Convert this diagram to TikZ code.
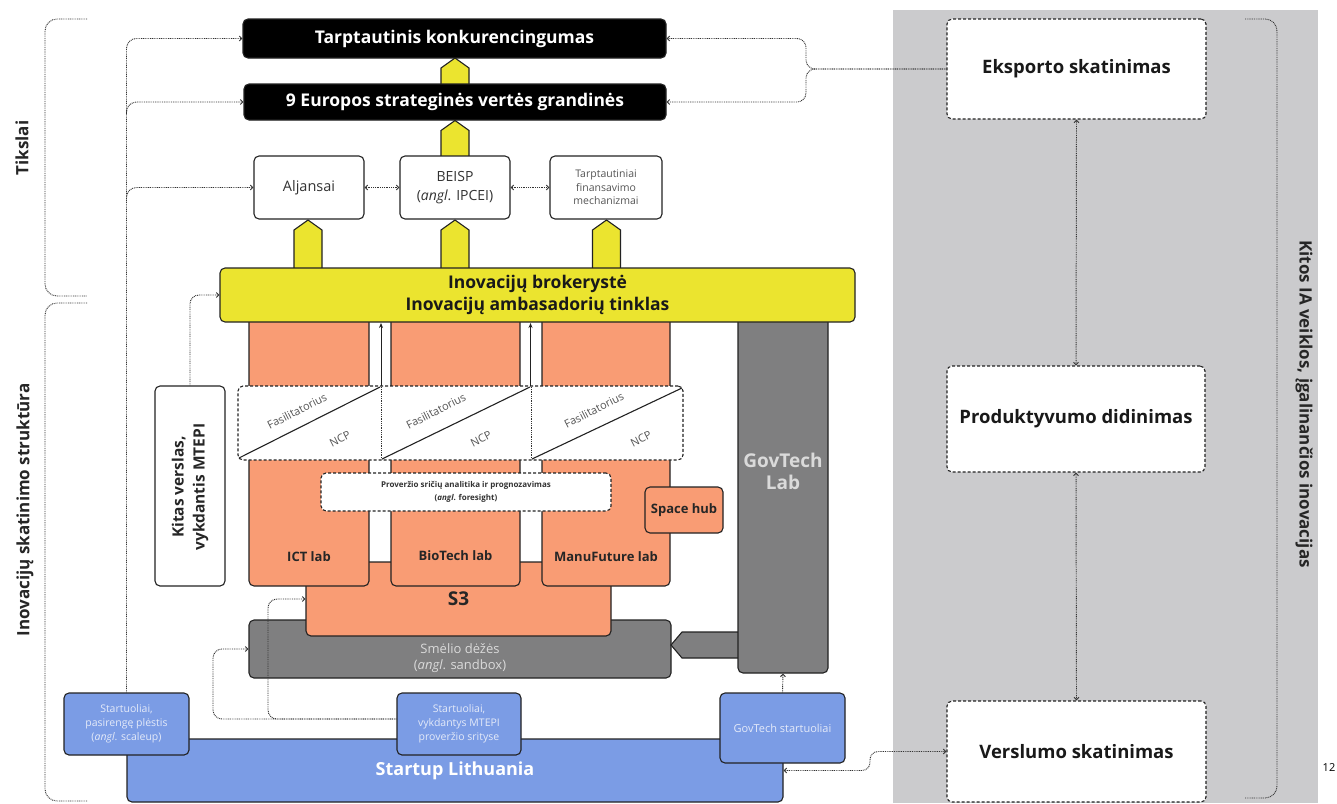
\documentclass[tikz,border=0pt]{standalone}
\usepackage{fontspec}
\setmainfont{Open Sans}
\usetikzlibrary{arrows.meta,calc}
\definecolor{cyel}{HTML}{EBE42F}
\definecolor{corg}{HTML}{F99C74}
\definecolor{cgry}{HTML}{7F7F80}
\definecolor{cblu}{HTML}{7B9CE5}
\definecolor{cpan}{HTML}{CBCBCD}
\definecolor{cline}{HTML}{222222}
\definecolor{bluetext}{HTML}{E4EAF9}
\definecolor{graytext}{HTML}{DADADA}
\definecolor{midtext}{HTML}{555555}
\newcommand\fsz[2]{\fontsize{#1}{#2}\selectfont}
\newcommand\yarr[3]{\draw[yarrow] (#1-14,#2) -- (#1-14,#3+10) -- (#1,#3) -- (#1+14,#3+10) -- (#1+14,#2) -- cycle;}
\begin{document}
\begin{tikzpicture}[x=1pt,y=-1pt,
  >={Straight Barb[length=2.5pt,width=5pt]},
  bx/.style={draw=cline,line width=1.1pt,rounded corners=5pt,inner sep=0pt,align=center},
  blackbox/.style={bx,fill=black,text=white,font=\bfseries\fsz{17.5}{20}},
  whitebox/.style={bx,fill=white,text=black!80},
  dashbox/.style={bx,fill=white,dash pattern=on 3pt off 2pt},
  colbox/.style={bx,fill=corg},
  graybox/.style={bx,fill=cgry},
  bluebox/.style={bx,fill=cblu,text=bluetext,font=\fsz{10.5}{14}},
  dotc/.style={draw=black!80,line width=0.95pt,dash pattern=on 0.9pt off 0.9pt},
  yarrow/.style={draw=cline,line width=1.1pt,fill=cyel,line join=miter},
  lbl/.style={inner sep=0pt,align=center},
  sidelbl/.style={lbl,font=\bfseries\fsz{17}{20},text=black!85},
  lablbl/.style={lbl,font=\bfseries\fsz{13}{15},text=black!85},
  diagtxt/.style={lbl,font=\fsz{11}{13},text=midtext,rotate=27},
  rightbox/.style={dashbox,font=\bfseries\fsz{18.5}{21},text=black!90},
]
\useasboundingbox (0,0) rectangle (1337,803);
% right panel
\fill[cpan] (893,10) rectangle (1318,803);

% brackets
\draw[dotc,rounded corners=12pt] (87,19) -- (45,19) -- (45,296) -- (87,296);
\draw[dotc,rounded corners=12pt] (87,303) -- (45,303) -- (45,801) -- (87,801);
\draw[dotc,rounded corners=12pt] (1245,19) -- (1277,19) -- (1277,798) -- (1245,798);
\node[sidelbl,rotate=90] (ltik) at (22,148) {Tikslai};
\node[sidelbl,rotate=90] (linov) at (25,510) {Inovacijų skatinimo struktūra};
\node[sidelbl,rotate=-90] (lkit) at (1304,404) {Kitos IA veiklos, įgalinančios inovacijas};

% yellow arrows (under the boxes)
\yarr{455}{90}{58}
\yarr{455}{162}{120.5}
\yarr{308}{275}{220}
\yarr{455}{275}{220}
\yarr{606.5}{275}{220}

% top boxes
\node[blackbox,minimum width=423,minimum height=39] (tk) at (454.5,38.5) {Tarptautinis konkurencingumas};
\node[blackbox,minimum width=422,minimum height=36] (eu) at (455,102) {9 Europos strateginės vertės grandinės};
\node[whitebox,minimum width=110,minimum height=63,font=\fsz{14.5}{19}] (alj) at (309,187.5) {Aljansai};
\node[whitebox,minimum width=110,minimum height=63,font=\fsz{14}{19}] (beisp) at (455,187.5) {BEISP\\(\textit{angl}. IPCEI)};
\node[whitebox,minimum width=112,minimum height=63,font=\fsz{10.5}{13.5},text=midtext] (tfm) at (606,187.5) {Tarptautiniai\\finansavimo\\mechanizmai};

% sandbox, S3
\node[graybox,minimum width=422,minimum height=58] (sand) at (460,649) {};
\node[lbl,text=graytext,font=\fsz{13}{16}] (lsand) at (460,658) {Smėlio dėžės\\(\textit{angl}. sandbox)};
\node[colbox,minimum width=305,minimum height=74,font=\bfseries\fsz{19}{20},text=black!85] (s3) at (458.5,599) {S3};

% lab columns
\node[colbox,minimum width=120,minimum height=276] (ict) at (309,448) {};
\node[colbox,minimum width=129,minimum height=276] (bio) at (455.5,448) {};
\node[colbox,minimum width=128,minimum height=276] (manu) at (606,448) {};
\node[lablbl] (lict) at (309,557) {ICT lab};
\node[lablbl] (lbio) at (455.5,556) {BioTech lab};
\node[lablbl] (lmanu) at (606,557) {ManuFuture lab};

% GovTech lab and its arrow to sandbox
\draw[yarrow,fill=cgry] (745,632) -- (682,632) -- (671,645) -- (682,658) -- (745,658) -- cycle;
\node[graybox,minimum width=90,minimum height=363] (gov) at (783,491.5) {};
\node[lbl,font=\bfseries\fsz{19}{22},text=graytext] (lgov) at (783,471) {GovTech\\Lab};

% yellow bar
\node[bx,fill=cyel,minimum width=635,minimum height=54,font=\bfseries\fsz{17.5}{22},text=black!90] (yel) at (537.5,295) {Inovacijų brokerystė\\Inovacijų ambasadorių tinklas};

% arrows in the gaps
\coordinate (g1b) at (381,386);
\coordinate (g1t) at (381,323);
\coordinate (g2b) at (530.5,386);
\coordinate (g2t) at (530.5,323);
\draw[line width=0.9pt,draw=cline,-{Stealth[length=5pt,width=4pt]}] (g1b) -- (g1t);
\draw[line width=0.9pt,draw=cline,-{Stealth[length=5pt,width=4pt]}] (g2b) -- (g2t);

% facilitator band
\node[dashbox,minimum width=445,minimum height=74] (fas) at (460.5,423) {};
\draw[dotc,line width=0.6pt] (381,387) -- (381,459);
\draw[dotc,line width=0.6pt] (531,387) -- (531,459);
\draw[line width=1.1pt,draw=cline] (239,458) -- (380,387);
\draw[line width=1.1pt,draw=cline] (382,459) -- (530,387);
\draw[line width=1.1pt,draw=cline] (532,459) -- (682,388);
\node[diagtxt] (f1) at (297,411) {Fasilitatorius};
\node[diagtxt] (n1) at (340,439) {NCP};
\node[diagtxt] (f2) at (436,411) {Fasilitatorius};
\node[diagtxt] (n2) at (481,439) {NCP};
\node[diagtxt] (f3) at (594,410) {Fasilitatorius};
\node[diagtxt] (n3) at (641,439) {NCP};

% foresight box and space hub
\node[dashbox,minimum width=290,minimum height=38,font=\bfseries\fsz{8}{12.5},text=black!80] (prov) at (466,492) {Proveržio sričių analitika ir prognozavimas\\(\textit{angl}. foresight)};
\node[colbox,minimum width=78,minimum height=46,font=\bfseries\fsz{13}{15},text=black!85] (space) at (684,510) {Space hub};

% other business box
\node[whitebox,minimum width=70,minimum height=200] (kitas) at (190,486) {};
\node[lbl,rotate=90,font=\bfseries\fsz{15.5}{21},text=black!85] (lkitas) at (190,487) {Kitas verslas,\\vykdantis MTEPI};

% startup boxes
\node[bx,fill=cblu,minimum width=656,minimum height=63] (sl) at (455,770.5) {};
\node[lbl,font=\bfseries\fsz{18}{20},text=white] (lsl) at (455,771) {Startup Lithuania};
\node[bluebox,minimum width=125,minimum height=62] (ss1) at (126.5,724) {Startuoliai,\\pasirengę plėstis\\(\textit{angl}. scaleup)};
\node[bluebox,minimum width=124,minimum height=62] (ss2) at (459,724) {Startuoliai,\\vykdantys MTEPI\\proveržio srityse};
\node[bluebox,minimum width=125,minimum height=70,font=\fsz{11}{14}] (ss3) at (782.5,728) {GovTech startuoliai};

% right panel boxes
\node[rightbox,minimum width=259,minimum height=100] (eks) at (1076.5,69) {Eksporto skatinimas};
\node[rightbox,minimum width=258,minimum height=106] (prod) at (1076,419) {Produktyvumo didinimas};
\node[rightbox,minimum width=259,minimum height=101] (vers) at (1076.5,751.5) {Verslumo skatinimas};

% dotted connectors
\coordinate (trB1) at (126.5,114);
\coordinate (trB2) at (126.5,199);
\draw[dotc,rounded corners=10pt,->] (ss1.north) |- (tk.west);
\draw[dotc,rounded corners=10pt,->] (trB1) |- (eu.west);
\draw[dotc,rounded corners=10pt,->] (trB2) |- (alj.west);
\draw[dotc,<->] (alj.east) -- (beisp.west);
\draw[dotc,<->] (beisp.east) -- (tfm.west);
\coordinate (split) at (806,69);
\draw[dotc,rounded corners=9pt,->] (eks.west) -- (split) |- (tk.east);
\draw[dotc,rounded corners=9pt,->] (eks.west) -- (split) |- (eu.east);
\draw[dotc,<->] (eks.south) -- (prod.north);
\draw[dotc,<->] (prod.south) -- (vers.north);
\coordinate (vbend) at (870,751.5);
\draw[dotc,rounded corners=8pt,<->] (vers.west) -- (vbend) |- (sl.east);
\draw[dotc,rounded corners=9pt,->] (kitas.north) |- (yel.west);
\coordinate (ss2a) at ($(ss2.west)+(0,-5)$);
\coordinate (sbx) at (213,649);
\coordinate (s3x) at (268,599);
\draw[dotc,rounded corners=9pt,->] (ss2a) -| (sbx) -- (sand.west);
\draw[dotc,rounded corners=9pt,->] (ss2a) -| (s3x) -- (s3.west);
\draw[dotc,->] (ss3.north) -- (gov.south);

\node[lbl,font=\fsz{11}{13}] (pg) at (1329,768) {12};
\end{tikzpicture}
\end{document}
